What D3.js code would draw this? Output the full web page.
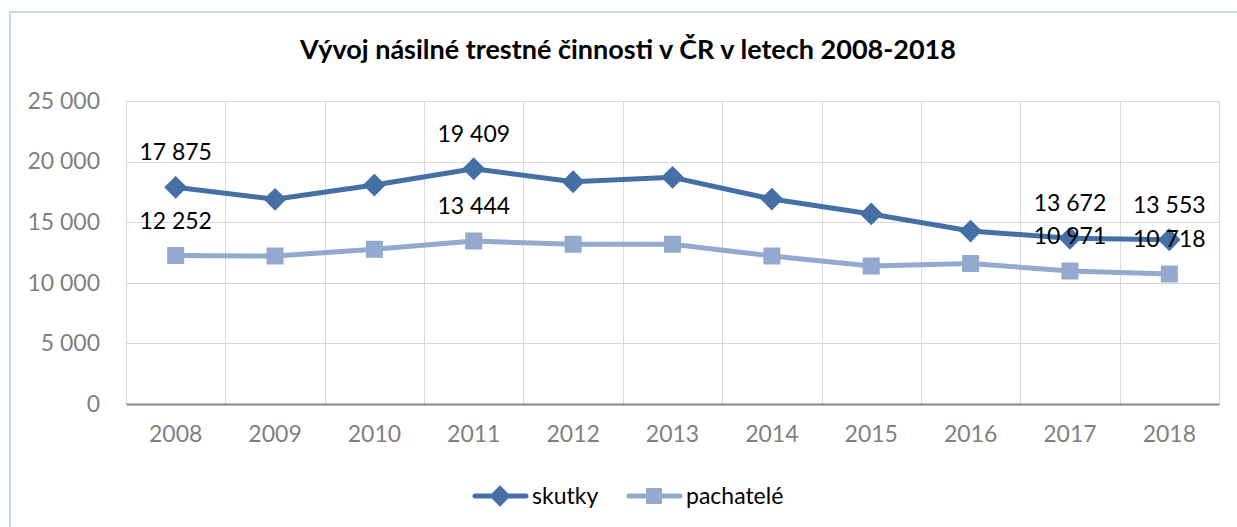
<!DOCTYPE html>
<html>
  <head>
    <meta charset="utf-8">
    <script src="https://cdn.jsdelivr.net/npm/d3@7"></script>
    <style>
        body { margin:0; background:#fff; }
        svg { display:block; font-family: Lato, "Open Sans", sans-serif; }
    </style>
  </head>
  <body>
    <script>
      // data
      var years = ["2008","2009","2010","2011","2012","2013","2014","2015","2016","2017","2018"];
      var skutky = [17875, 16890, 18070, 19409, 18340, 18700, 16910, 15680, 14270, 13672, 13553];
      var pachatele = [12252, 12210, 12765, 13444, 13180, 13180, 12210, 11385, 11600, 10971, 10718];
      var labelledYears = ["2008","2011","2017","2018"];
      var yTicks = [0, 5000, 10000, 15000, 20000, 25000];
      var seriesNames = ["skutky", "pachatelé"];

      var width = 1237, height = 527;
      var plotLeft = 126, plotRight = 1219, plotTop = 101, plotBottom = 404;
      var dark = "#4470a6", light = "#93a9cf";

      var fmt = function(v) { return d3.format(",")(v).replace(/,/g, " "); };

      var svg = d3.select("body").append("svg")
          .attr("width", width)
          .attr("height", height);

      // outer chart frame
      svg.append("rect")
          .attr("x", 10).attr("y", 12)
          .attr("width", width + 10).attr("height", height + 10)
          .attr("fill", "none")
          .attr("stroke", "#c6d9f0")
          .attr("stroke-width", 2);

      svg.append("text")
          .attr("x", 628).attr("y", 59)
          .attr("text-anchor", "middle")
          .attr("font-weight", "bold")
          .attr("font-size", 27)
          .attr("fill", "#000")
          .text("Vývoj násilné trestné činnosti v ČR v letech 2008-2018");

      var x = d3.scaleBand().domain(years).range([plotLeft, plotRight]);
      var y = d3.scaleLinear().domain([0, 25000]).range([plotBottom, plotTop]);

      // horizontal gridlines
      svg.append("g")
          .selectAll("line")
          .data(yTicks.filter(function(d){ return d > 0; }))
          .enter().append("line")
          .attr("x1", plotLeft).attr("x2", plotRight)
          .attr("y1", function(d){ return Math.round(y(d)) + 0.5; })
          .attr("y2", function(d){ return Math.round(y(d)) + 0.5; })
          .attr("stroke", "#d9d9d9");

      // vertical gridlines at category boundaries
      var bounds = years.map(function(d){ return x(d); }).concat([plotRight]);
      svg.append("g")
          .selectAll("line")
          .data(bounds)
          .enter().append("line")
          .attr("x1", function(d){ return Math.round(d) + 0.5; })
          .attr("x2", function(d){ return Math.round(d) + 0.5; })
          .attr("y1", plotTop).attr("y2", plotBottom)
          .attr("stroke", "#d9d9d9");

      // y axis labels
      var yAxis = svg.append("g")
          .attr("transform", "translate(" + plotLeft + ",0)")
          .call(d3.axisLeft(y).tickValues(yTicks).tickSize(0).tickPadding(26).tickFormat(fmt));
      yAxis.select(".domain").remove();
      yAxis.selectAll("text")
          .attr("font-family", "Lato, sans-serif")
          .attr("font-size", 23)
          .attr("fill", "#7f7f7f");

      // x axis
      var xAxis = svg.append("g")
          .attr("transform", "translate(0," + plotBottom + ")")
          .call(d3.axisBottom(x).tickSize(0).tickPadding(22));
      xAxis.select(".domain")
          .attr("stroke", "#868686")
          .attr("stroke-width", 2);
      xAxis.selectAll("text")
          .attr("font-family", "Lato, sans-serif")
          .attr("font-size", 23)
          .attr("fill", "#7f7f7f");

      var line = d3.line()
          .x(function(d, i){ return x(years[i]) + x.bandwidth() / 2; })
          .y(function(d){ return y(d); });

      var diamond = d3.symbol().type(d3.symbolDiamond2).size(220);
      var square = d3.symbol().type(d3.symbolSquare2).size(250);

      function drawSeries(values, color, sym) {
          svg.append("path")
              .datum(values)
              .attr("d", line)
              .attr("fill", "none")
              .attr("stroke", color)
              .attr("stroke-width", 5)
              .attr("stroke-linejoin", "round");
          svg.append("g")
              .selectAll("path")
              .data(values)
              .enter().append("path")
              .attr("d", sym)
              .attr("transform", function(d, i){
                  return "translate(" + (x(years[i]) + x.bandwidth() / 2) + "," + y(d) + ")";
              })
              .attr("fill", color)
              .attr("stroke", color)
              .attr("stroke-width", 3);
      }

      function drawLabels(values) {
          svg.append("g")
              .selectAll("text")
              .data(values.filter(function(d, i){ return labelledYears.indexOf(years[i]) >= 0; }))
              .enter().append("text")
              .attr("x", function(d){ return x(years[values.indexOf(d)]) + x.bandwidth() / 2; })
              .attr("y", function(d){ return y(d) - 27; })
              .attr("text-anchor", "middle")
              .attr("font-size", 23)
              .attr("fill", "#000")
              .text(fmt);
      }

      drawSeries(skutky, dark, diamond);
      drawSeries(pachatele, light, square);
      drawLabels(skutky);
      drawLabels(pachatele);

      // legend
      var legendData = [
          {name: seriesNames[0], color: dark, sym: diamond, x: 473},
          {name: seriesNames[1], color: light, sym: square, x: 627}
      ];
      var lg = svg.append("g").selectAll("g")
          .data(legendData)
          .enter().append("g")
          .attr("transform", function(d){ return "translate(" + d.x + ",496)"; });
      lg.append("line")
          .attr("x1", 2).attr("x2", 53)
          .attr("stroke", function(d){ return d.color; })
          .attr("stroke-width", 5)
          .attr("stroke-linecap", "round");
      lg.append("path")
          .attr("d", function(d){ return d.sym(); })
          .attr("transform", "translate(27,0)")
          .attr("fill", function(d){ return d.color; })
          .attr("stroke", function(d){ return d.color; })
          .attr("stroke-width", 2);
      lg.append("text")
          .attr("x", 59).attr("y", 8)
          .attr("font-size", 23)
          .attr("fill", "#000")
          .text(function(d){ return d.name; });
    </script>
  </body>
</html>
